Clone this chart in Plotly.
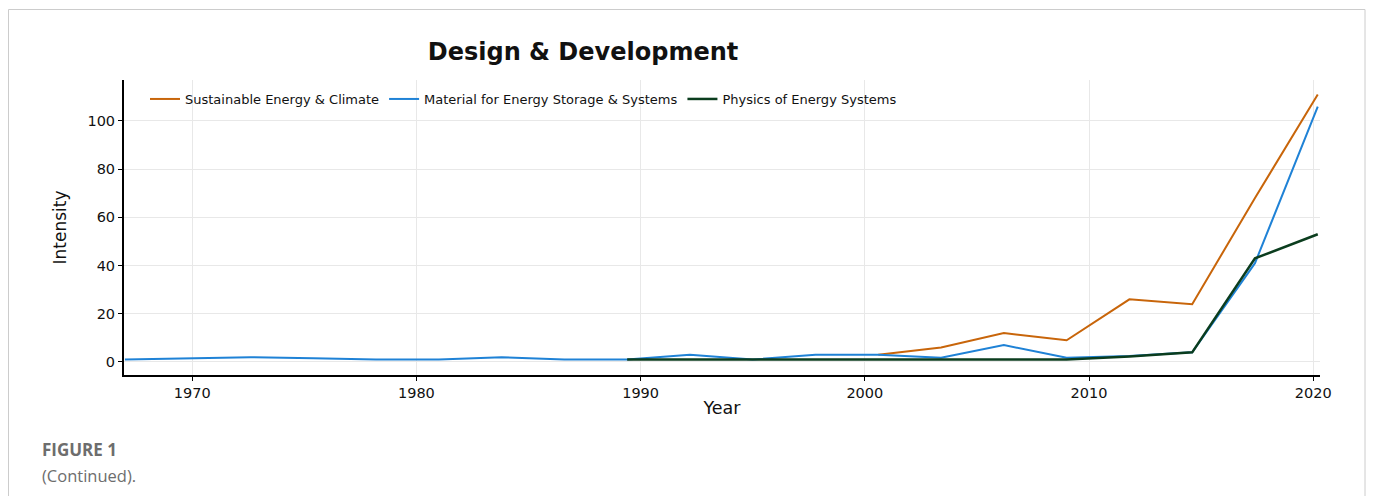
import plotly.graph_objects as go

years = [1967.0, 1969.8, 1972.6, 1975.4, 1978.2, 1981.0, 1983.8, 1986.6, 1989.4, 1992.2,
         1995.0, 1997.8, 2000.6, 2003.4, 2006.2, 2009.0, 2011.8, 2014.6, 2017.4, 2020.2]

sustainable_years = years[12:]
sustainable = [3, 6, 12, 9, 26, 24, 68, 111]

material = [1, 1.5, 2, 1.5, 1, 1, 2, 1, 1, 3, 1, 3, 3, 1.8, 7, 1.8, 2.5, 4, 41, 106]

physics_years = years[8:]
physics = [1, 1, 1, 1, 1, 1, 1, 1, 2.3, 4, 43, 53]

series_names = ["Sustainable Energy & Climate", "Material for Energy Storage & Systems",
                "Physics of Energy Systems"]
colors = ["#c8650a", "#1f82d6", "#0b3d1e"]

x_ticks = [1970, 1980, 1990, 2000, 2010, 2020]
y_ticks = [0, 20, 40, 60, 80, 100]

fig = go.Figure()
fig.add_trace(go.Scatter(x=sustainable_years, y=sustainable, mode="lines",
                         name=series_names[0], line=dict(color=colors[0], width=2)))
fig.add_trace(go.Scatter(x=years, y=material, mode="lines",
                         name=series_names[1], line=dict(color=colors[1], width=2)))
fig.add_trace(go.Scatter(x=physics_years, y=physics, mode="lines",
                         name=series_names[2], line=dict(color=colors[2], width=2.5)))

OFF = 8  # page body margin
W, H = 1375 - 2 * OFF, 504 - 2 * OFF
L, R, T, B = 124 - OFF, 1320 - OFF, 80 - OFF, 375 - OFF
pw, ph = R - L, B - T

def px(xp):
    return (xp - OFF - L) / pw

def py(yp):
    return (B - (yp - OFF)) / ph

fig.update_layout(
    width=W, height=H,
    margin=dict(l=L, r=W - R, t=T, b=H - B, pad=0),
    paper_bgcolor="white", plot_bgcolor="white",
    font=dict(family="DejaVu Sans", color="#111111", size=13),
    title=dict(text="<b>Design & Development</b>", x=(583 - OFF) / W, xref="container",
               xanchor="center", y=1 - (52 - OFF) / H, yref="container", yanchor="middle",
               font=dict(family="DejaVu Sans", size=24, color="#111111")),
    showlegend=True,
    legend=dict(orientation="h", x=px(145), y=py(99), xanchor="left", yanchor="middle",
                bgcolor="rgba(0,0,0,0)", font=dict(size=13, color="#111111"),
                itemwidth=30, tracegroupgap=0),
    xaxis=dict(range=[1966.96, 2020.3], tickvals=x_ticks, ticktext=[str(v) for v in x_ticks],
               showgrid=True, gridcolor="#e8e8e8", gridwidth=1,
               showline=True, linecolor="black", linewidth=2,
               ticks="outside", ticklen=4, tickcolor="black", zeroline=False,
               tickfont=dict(size=14.5),
               title=dict(text="Year", font=dict(size=17.5), standoff=1)),
    yaxis=dict(range=[-5.4, 117], tickvals=y_ticks, showgrid=True, gridcolor="#e8e8e8",
               gridwidth=1, showline=True, linecolor="black", linewidth=2,
               ticks="outside", ticklen=4, tickcolor="black", zeroline=False,
               tickfont=dict(size=14.5),
               title=dict(text="Intensity", font=dict(size=17), standoff=16)),
    shapes=[dict(type="rect", xref="paper", yref="paper",
                 x0=px(8.5), x1=px(1365), y0=py(530), y1=py(9.5),
                 line=dict(color="#cccccc", width=1), fillcolor="rgba(0,0,0,0)",
                 layer="below")],
    annotations=[
        dict(text="<b>FIGURE 1</b>", xref="paper", yref="paper", x=px(40), y=py(449),
             xanchor="left", yanchor="middle", showarrow=False,
             font=dict(family="Open Sans", size=17, color="#6d6d6d")),
        dict(text="(Continued).", xref="paper", yref="paper", x=px(40), y=py(475),
             xanchor="left", yanchor="middle", showarrow=False,
             font=dict(family="Open Sans", size=16.5, color="#6d6d6d")),
    ],
)

fig.write_html("out.html")
